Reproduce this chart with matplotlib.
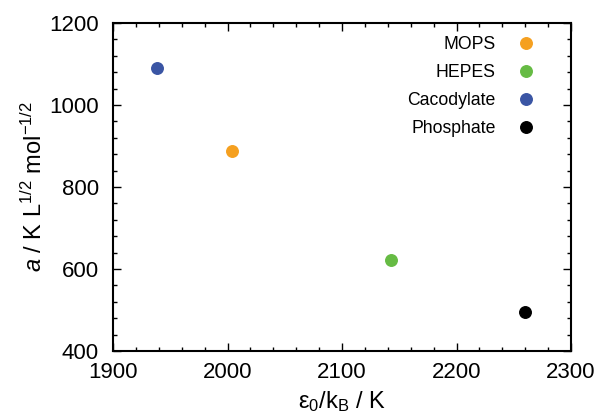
import matplotlib
matplotlib.use("Agg")
import matplotlib.pyplot as plt
from matplotlib.ticker import MultipleLocator

plt.rcParams['font.family'] = ['Liberation Sans', 'DejaVu Sans']
plt.rcParams['mathtext.fontset'] = 'custom'
plt.rcParams['mathtext.rm'] = 'Liberation Sans'
plt.rcParams['mathtext.it'] = 'Liberation Sans:italic'

# data
buffers = ["MOPS", "HEPES", "Cacodylate", "Phosphate"]
eps_kb = [2004, 2143, 1938, 2260]
a_vals = [888, 623, 1090, 494]
colors = ["#f5a020", "#66bb44", "#3a55a4", "#000000"]

fig = plt.figure(figsize=(6.01, 4.18), dpi=100)
ax = fig.add_axes([113 / 601, 1 - 351 / 418, 458 / 601, 328 / 418])

for name, x, y, c in zip(buffers, eps_kb, a_vals, colors):
    ax.plot([x], [y], 'o', color=c, markersize=8.3, label=name, linestyle='none')

ax.set_xlim(1900, 2300)
ax.set_ylim(400, 1200)
ax.xaxis.set_major_locator(MultipleLocator(100))
ax.xaxis.set_minor_locator(MultipleLocator(20))
ax.yaxis.set_major_locator(MultipleLocator(200))
ax.yaxis.set_minor_locator(MultipleLocator(40))
ax.tick_params(which='both', direction='in', top=True, right=True, width=1.0)
ax.tick_params(which='major', length=6, labelsize=16)
ax.tick_params(axis='y', which='major', pad=10)
ax.tick_params(axis='x', which='major', pad=8)
ax.tick_params(which='minor', length=3)
for s in ax.spines.values():
    s.set_linewidth(1.5)

ax.set_xlabel(r"ε$_0$/k$_\mathrm{B}$ / K", fontsize=17, labelpad=4)
ax.set_ylabel(r"$a$ / K L$^{1/2}$ mol$^{-1/2}$", fontsize=17, labelpad=2)

ax.legend(loc='upper right', frameon=False, markerfirst=False, fontsize=12.7,
          handlelength=1.0, handletextpad=1.2, labelspacing=0.62,
          borderaxespad=0.5, bbox_to_anchor=(0.955, 1.008))

fig.savefig("out.png", dpi=100)
